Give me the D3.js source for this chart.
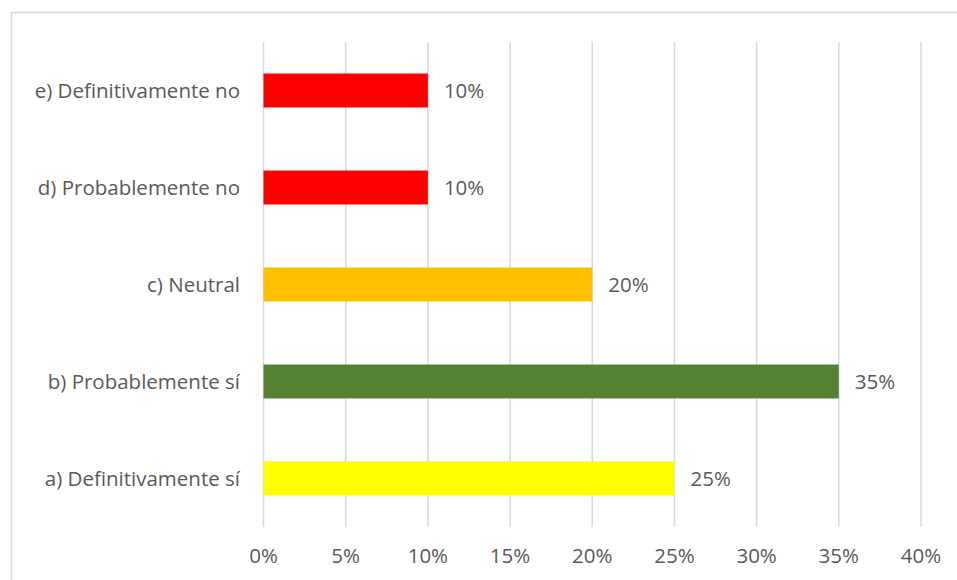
<!DOCTYPE html>
<html>
<head>
<meta charset="utf-8">
<script src="https://cdn.jsdelivr.net/npm/d3@7"></script>
<style>
  body { margin: 0; background: #fff; }
  svg { display: block; }
  text { font-family: "Open Sans", "Liberation Sans", sans-serif; fill: #595959; }
</style>
</head>
<body>
<svg id="chart" width="957" height="580"></svg>
<script>
// chart data, bottom to top as drawn
const categories = ["a) Definitivamente sí", "b) Probablemente sí", "c) Neutral", "d) Probablemente no", "e) Definitivamente no"];
const values = [25, 35, 20, 10, 10];
const barColors = ["#FFFF00", "#548235", "#FFC000", "#FF0000", "#FF0000"];
const xTicks = [0, 5, 10, 15, 20, 25, 30, 35, 40];

const svg = d3.select("#chart");
const fontSize = 20.5;

// chart frame
svg.append("rect")
    .attr("x", 11.5)
    .attr("y", 12.5)
    .attr("width", 960)
    .attr("height", 600)
    .attr("fill", "none")
    .attr("stroke", "#d9d9d9")
    .attr("stroke-width", 1.5);

const margin = { left: 263.5, right: 921, top: 42, bottom: 527 };

const x = d3.scaleLinear()
    .domain([0, 40])
    .range([margin.left, margin.right]);

const y = d3.scaleBand()
    .domain(categories.slice().reverse())
    .range([margin.top, margin.bottom])
    .paddingInner(0.65)
    .paddingOuter(0.325);

// vertical gridlines
svg.append("g")
    .selectAll("line")
    .data(xTicks)
    .enter()
    .append("line")
    .attr("x1", d => x(d))
    .attr("x2", d => x(d))
    .attr("y1", margin.top)
    .attr("y2", margin.bottom)
    .attr("stroke", "#d9d9d9")
    .attr("stroke-width", 1.5);

// x tick labels
svg.append("g")
    .selectAll("text")
    .data(xTicks)
    .enter()
    .append("text")
    .attr("x", d => x(d))
    .attr("y", 558)
    .attr("text-anchor", "middle")
    .attr("dominant-baseline", "middle")
    .attr("font-size", fontSize)
    .text(d => d + "%");

// bars
const rows = categories.map((c, i) => ({ cat: c, val: values[i], color: barColors[i] }));

svg.append("g")
    .selectAll("rect")
    .data(rows)
    .enter()
    .append("rect")
    .attr("x", x(0))
    .attr("y", d => y(d.cat))
    .attr("width", d => x(d.val) - x(0))
    .attr("height", y.bandwidth())
    .attr("fill", d => d.color);

// category labels
svg.append("g")
    .selectAll("text")
    .data(rows)
    .enter()
    .append("text")
    .attr("x", 240)
    .attr("y", d => y(d.cat) + y.bandwidth() / 2 + 2)
    .attr("text-anchor", "end")
    .attr("dominant-baseline", "middle")
    .attr("font-size", fontSize)
    .text(d => d.cat);

// value labels
svg.append("g")
    .selectAll("text")
    .data(rows)
    .enter()
    .append("text")
    .attr("x", d => x(d.val) + 16)
    .attr("y", d => y(d.cat) + y.bandwidth() / 2 + 2)
    .attr("dominant-baseline", "middle")
    .attr("font-size", fontSize)
    .text(d => d.val + "%");
</script>
</body>
</html>
